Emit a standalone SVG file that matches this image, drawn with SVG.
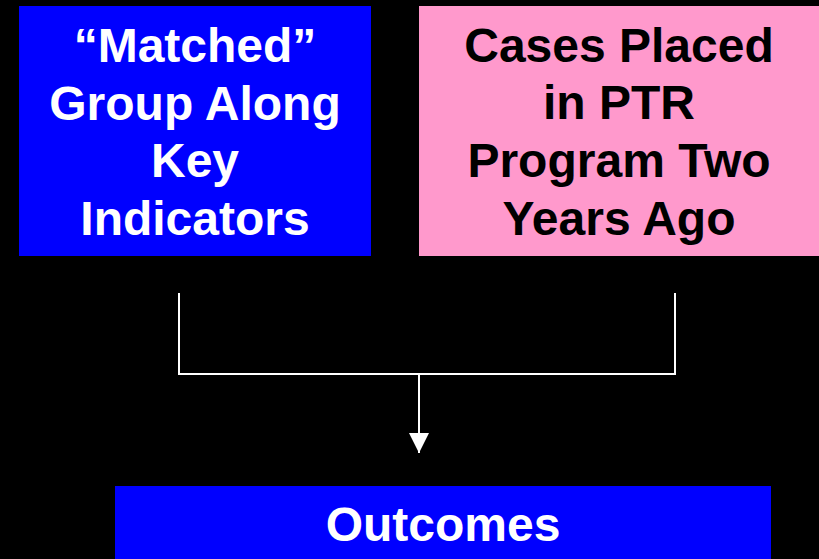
<svg xmlns="http://www.w3.org/2000/svg" width="819" height="559" viewBox="0 0 819 559">
<style>
  .t { font-family: "Liberation Sans", Arial, sans-serif; font-weight: bold; font-size: 48px; text-anchor: middle; }
  .w { fill: #FFFFFF; }
  .k { fill: #000000; }
  .blue { fill: #0000FF; }
  .pink { fill: #FF99CC; }
  .conn { fill: none; stroke: #FFFFFF; stroke-width: 2; }
</style>
<defs>
  <marker id="arrow" viewBox="0 0 20 20" refX="20" refY="10" markerWidth="20" markerHeight="20" markerUnits="userSpaceOnUse" orient="auto">
    <path d="M0,0 L20,10 L0,20 Z" fill="#FFFFFF"/>
  </marker>
</defs>
<rect x="0" y="0" width="819" height="559" fill="#000000"/>
<g id="matched">
  <rect class="blue" x="19" y="6" width="352" height="250"/>
  <text class="t w" x="195" y="62">“Matched”</text>
  <text class="t w" x="195" y="120">Group Along</text>
  <text class="t w" x="195" y="177">Key</text>
  <text class="t w" x="195" y="235">Indicators</text>
</g>
<g id="ptr">
  <rect class="pink" x="419" y="6" width="400" height="250"/>
  <text class="t k" x="619" y="62">Cases Placed</text>
  <text class="t k" x="619" y="119">in PTR</text>
  <text class="t k" x="619" y="177">Program Two</text>
  <text class="t k" x="619" y="235">Years Ago</text>
</g>
<g id="outcomes">
  <rect class="blue" x="115" y="486" width="656" height="73"/>
  <text class="t w" x="443" y="541">Outcomes</text>
</g>
<g id="connectors">
  <polyline class="conn" points="179,293 179,374 675,374 675,293"/>
  <line class="conn" x1="419" y1="374" x2="419" y2="453" marker-end="url(#arrow)"/>
</g>
</svg>
